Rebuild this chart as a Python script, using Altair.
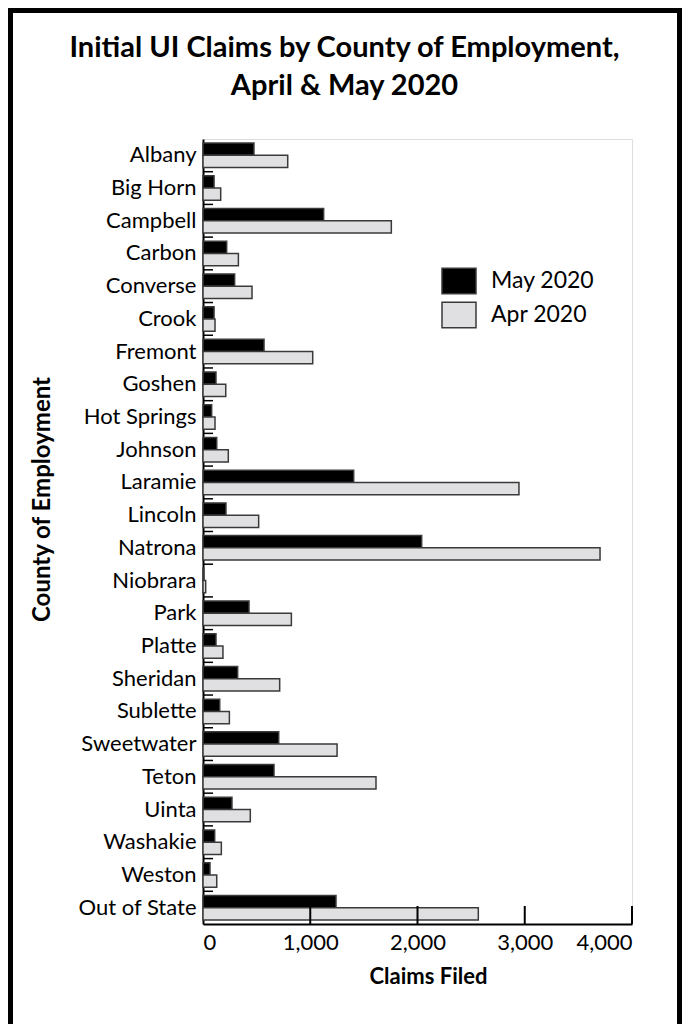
import altair as alt
import pandas as pd

counties = ["Albany", "Big Horn", "Campbell", "Carbon", "Converse", "Crook",
            "Fremont", "Goshen", "Hot Springs", "Johnson", "Laramie", "Lincoln",
            "Natrona", "Niobrara", "Park", "Platte", "Sheridan", "Sublette",
            "Sweetwater", "Teton", "Uinta", "Washakie", "Weston", "Out of State"]
may_2020 = [475, 103, 1125, 221, 295, 103, 569, 121, 81, 128, 1405, 214,
            2039, 8, 429, 121, 323, 156, 706, 662, 270, 109, 65, 1240]
apr_2020 = [790, 165, 1756, 330, 457, 112, 1023, 212, 112, 236, 2946, 519,
            3702, 25, 824, 186, 715, 246, 1250, 1613, 441, 171, 128, 2567]
series = ["May 2020", "Apr 2020"]
x_ticks = [1000, 2000, 3000, 4000]
x_labels = [0, 1000, 2000, 3000, 4000]

rows = []
for c, m, a in zip(counties, may_2020, apr_2020):
    rows.append({"county": c, "series": series[0], "claims": m})
    rows.append({"county": c, "series": series[1], "claims": a})
df = pd.DataFrame(rows)

W, H = 429, 785
FONT = "Lato"

x_axis = alt.Axis(values=x_labels, labelExpr="format(datum.value, ',')",
                  title="Claims Filed",
                  ticks=False, grid=False, labelFontSize=22,
                  labelPadding=8, labelFont=FONT, labelColor="black",
                  domainColor="black", domainWidth=2,
                  titleFontSize=22, titleFont=FONT, titleFontWeight="bold",
                  titleColor="black", titleX=225, titleY=52,
                  titleBaseline="middle", titleAlign="center")
y_axis = alt.Axis(title="County of Employment", ticks=False,
                  labelFontSize=22, labelFont=FONT, labelColor="black",
                  labelPadding=7, domainColor="black", domainWidth=2,
                  titleFontSize=24, titleFont=FONT, titleFontWeight="bold",
                  titleColor="black", titleX=-161, titleY=360,
                  titleAngle=270, titleAlign="center",
                  titleBaseline="middle")

bars = alt.Chart(df).mark_bar(stroke="#3a3a3a", strokeWidth=1.5).encode(
    x=alt.X("claims:Q", scale=alt.Scale(domain=[0, 4000], nice=False),
            axis=x_axis),
    y=alt.Y("county:N", sort=counties,
            scale=alt.Scale(paddingInner=0, paddingOuter=0), axis=y_axis),
    yOffset=alt.YOffset("series:N", sort=series,
                        scale=alt.Scale(domain=series, paddingOuter=0.335,
                                        paddingInner=0)),
    color=alt.Color("series:N",
                    scale=alt.Scale(domain=series, range=["#000000", "#e0e0e2"]),
                    legend=alt.Legend(title=None, orient="none", legendX=238,
                                      legendY=124,
                                      symbolType="M-1,-0.75H1V0.75H-1Z",
                                      symbolSize=1156, symbolStrokeColor="#3a3a3a",
                                      symbolStrokeWidth=1.5, symbolOpacity=1,
                                      labelFontSize=23, labelFont=FONT,
                                      labelColor="black", labelOffset=14,
                                      rowPadding=0, padding=0)),
)

ytick = alt.Chart(pd.DataFrame({"county": counties[1:]})).mark_rule(
    color="black", strokeWidth=1.5).encode(
    y=alt.Y("county:N", sort=counties, bandPosition=0, axis=y_axis),
    x=alt.value(0), x2=alt.value(10))

xtick = alt.Chart(pd.DataFrame({"claims": x_ticks})).mark_rule(
    color="black", strokeWidth=2).encode(
    x=alt.X("claims:Q", axis=x_axis),
    y=alt.value(H - 18), y2=alt.value(H))

frame = alt.Chart(alt.Data(values=[{"k": 1}])).mark_rect(
    filled=False, fillOpacity=0, stroke="black", strokeWidth=5).encode(
    x=alt.value(-192.5), x2=alt.value(476.5),
    y=alt.value(-128.5), y2=alt.value(H + 300))

chart = alt.layer(bars, ytick, xtick, frame).properties(
    width=W, height=H,
    padding={"left": 195, "top": 131, "right": 50, "bottom": 100},
    autosize=alt.AutoSizeParams(type="none"),
    title=alt.TitleParams(["Initial UI Claims by County of Employment,",
                           "April & May 2020"],
                          fontSize=29, font=FONT, fontWeight="bold",
                          color="black", anchor="middle", dx=-73,
                          offset=0, dy=93, lineHeight=38),
).configure_view(strokeWidth=0).configure(font=FONT)

chart.save("out.html", embed_options={"renderer": "svg", "actions": False})
